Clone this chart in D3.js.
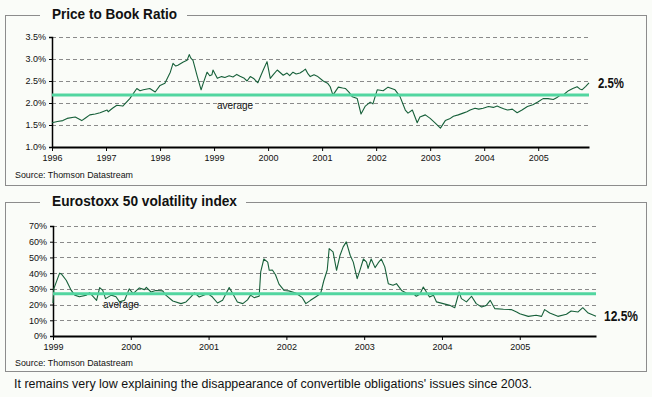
<!DOCTYPE html>
<html><head><meta charset="utf-8">
<script src="https://cdn.jsdelivr.net/npm/d3@7"></script>
<style>
body{margin:0;background:#fafcf8}
text{font-family:Arial,"Liberation Sans",sans-serif;fill:#111}
</style></head><body>
<svg id="c" width="652" height="397"></svg>
<script>
// ---------- data ----------
const pbDates = [1996.00,1996.10,1996.20,1996.28,1996.43,1996.55,1996.62,1996.70,1996.80,1996.89,1997.02,1997.04,1997.12,1997.20,1997.31,1997.44,1997.57,1997.63,1997.69,1997.81,1997.91,1998.00,1998.09,1998.19,1998.24,1998.29,1998.33,1998.43,1998.50,1998.54,1998.57,1998.61,1998.69,1998.76,1998.80,1998.87,1998.92,1998.96,1998.98,1999.06,1999.14,1999.20,1999.28,1999.35,1999.42,1999.48,1999.55,1999.61,1999.67,1999.74,1999.81,1999.91,1999.98,2000.04,2000.10,2000.17,2000.28,2000.35,2000.40,2000.46,2000.52,2000.59,2000.64,2000.69,2000.74,2000.78,2000.85,2000.91,2001.02,2001.10,2001.15,2001.20,2001.30,2001.38,2001.43,2001.50,2001.56,2001.65,2001.72,2001.80,2001.89,2001.94,2002.02,2002.13,2002.22,2002.35,2002.44,2002.54,2002.59,2002.67,2002.76,2002.81,2002.91,2003.00,2003.09,2003.19,2003.28,2003.36,2003.43,2003.52,2003.61,2003.68,2003.74,2003.83,2003.90,2003.98,2004.08,2004.17,2004.24,2004.30,2004.36,2004.43,2004.52,2004.61,2004.70,2004.80,2004.90,2005.00,2005.09,2005.18,2005.28,2005.34,2005.41,2005.48,2005.56,2005.64,2005.72,2005.77,2005.81,2005.88,2005.94];
const pbValues = [1.55,1.58,1.60,1.65,1.68,1.60,1.66,1.73,1.75,1.78,1.84,1.80,1.88,1.95,1.93,2.10,2.33,2.28,2.30,2.33,2.25,2.40,2.45,2.70,2.90,2.84,2.86,2.93,2.97,3.10,3.02,2.97,2.60,2.30,2.45,2.70,2.62,2.64,2.75,2.56,2.60,2.58,2.62,2.59,2.65,2.61,2.57,2.50,2.60,2.55,2.46,2.75,2.94,2.56,2.65,2.75,2.63,2.68,2.62,2.70,2.66,2.68,2.72,2.77,2.66,2.60,2.64,2.61,2.50,2.45,2.37,2.18,2.36,2.34,2.33,2.24,2.14,2.10,1.75,1.93,2.02,1.98,2.30,2.28,2.36,2.30,2.15,1.84,1.77,1.84,1.55,1.68,1.73,1.65,1.55,1.43,1.60,1.64,1.70,1.73,1.77,1.80,1.84,1.88,1.86,1.88,1.92,1.90,1.93,1.90,1.87,1.84,1.86,1.78,1.84,1.92,1.96,2.03,2.10,2.10,2.08,2.12,2.18,2.20,2.28,2.33,2.37,2.32,2.30,2.38,2.46];
const pbAverage = 2.18;
const pbTicks = [1.0,1.5,2.0,2.5,3.0,3.5];
const pbYears = [1996,1997,1998,1999,2000,2001,2002,2003,2004,2005];

const volDates = [1999.00,1999.01,1999.085,1999.107,1999.17,1999.235,1999.28,1999.34,1999.43,1999.47,1999.56,1999.60,1999.64,1999.675,1999.75,1999.81,1999.855,1999.92,1999.98,2000.03,2000.11,2000.175,2000.20,2000.26,2000.32,2000.41,2000.45,2000.54,2000.645,2000.71,2000.77,2000.82,2000.88,2000.99,2001.05,2001.115,2001.18,2001.265,2001.31,2001.37,2001.44,2001.50,2001.54,2001.585,2001.65,2001.67,2001.71,2001.76,2001.78,2001.82,2001.86,2001.905,2001.97,2002.03,2002.12,2002.205,2002.25,2002.31,2002.375,2002.44,2002.48,2002.525,2002.55,2002.60,2002.645,2002.69,2002.73,2002.77,2002.82,2002.86,2002.91,2002.945,2002.99,2003.03,2003.05,2003.09,2003.14,2003.18,2003.22,2003.265,2003.31,2003.37,2003.415,2003.48,2003.54,2003.63,2003.67,2003.715,2003.76,2003.80,2003.84,2003.89,2003.93,2004.015,2004.10,2004.165,2004.22,2004.25,2004.315,2004.38,2004.44,2004.51,2004.57,2004.62,2004.68,2004.79,2004.89,2004.96,2005.00,2005.11,2005.21,2005.28,2005.32,2005.385,2005.49,2005.60,2005.66,2005.75,2005.81,2005.88,2005.98];
const volValues = [21,30,40,39.5,35.5,29,26,25,26,27.6,22.7,30.8,29,23.8,26,25,21.7,22.7,30,27,30.6,29.5,31,28,29,28.7,26,22.3,20.6,21.7,24.8,27.4,24.8,27,24.8,21,22.7,30.8,27,21.7,20.6,23,26,24.4,25.3,40.8,49,47,41.8,42,39,33,29,28.7,27.4,24.4,20.6,22.7,24.8,27,35,42,55.6,53.5,41.8,51.4,56.7,59.9,51.4,47,36.5,41.8,49,47,43,49,43.5,46.5,49,44,33.3,32.3,33.3,29,27.4,27,25.3,26.5,31.2,28,24.8,26,21.7,20.6,19.5,18,28,23.8,21.7,25.3,20.6,18.5,19.5,22.7,17.4,17,16.8,15.3,14.2,12.5,13.2,12.5,16.8,14.6,12.5,13.8,15.9,15.3,18,14.6,12.5];
const volAverage = 26.9;
const volTicks = [0,10,20,30,40,50,60,70];
const volYears = [1999,2000,2001,2002,2003,2004,2005];

const svg = d3.select("#c");
const LINE = "#17603a", AVG = "#52d6a0", GRID = "#8a8a8a", FRAME = "#8c8c8c";

function panel(o){
  const g = svg.append("g");
  const f = o.frame;
  g.append("path")
    .attr("d", `M${f.gapR},${f.y0}H${f.x1}V${f.y1}H${f.x0}V${f.y0}H${f.gapL}`)
    .attr("fill","none").attr("stroke",FRAME).attr("stroke-width",1).attr("shape-rendering","crispEdges");
  g.append("text").attr("x",52).attr("y",o.titleY).attr("font-size",15).attr("font-weight","bold")
    .attr("textLength",o.titleW).attr("lengthAdjust","spacingAndGlyphs").text(o.title);

  const x = d3.scaleLinear().domain(o.xDomain).range(o.xRange);
  const y = d3.scaleLinear().domain(o.yDomain).range(o.yRange);

  g.append("g").selectAll("line").data(o.ticks.slice(1)).join("line")
    .attr("x1",o.xRange[0]).attr("x2",o.xRange[1])
    .attr("y1",d=>Math.round(y(d))+0.5).attr("y2",d=>Math.round(y(d))+0.5)
    .attr("stroke",GRID).attr("stroke-dasharray","4,3").attr("stroke-width",1);

  const ya = g.append("g").attr("transform",`translate(${o.xRange[0]},0)`)
    .call(d3.axisLeft(y).tickValues(o.ticks).tickFormat(o.fmt).tickSize(3).tickPadding(3));
  ya.select(".domain").attr("stroke","#000").attr("stroke-width",1.5);
  ya.selectAll(".tick line").attr("stroke","#000");
  ya.selectAll("text").attr("font-size",9).attr("font-family","Arial,'Liberation Sans',sans-serif").attr("fill","#111");

  const xa = g.append("g").attr("transform",`translate(0,${o.yRange[0]})`)
    .call(d3.axisBottom(x).tickValues(o.years).tickFormat(d3.format("d")).tickSize(4).tickSizeOuter(0).tickPadding(4));
  xa.select(".domain").attr("stroke","#000").attr("stroke-width",2);
  xa.selectAll(".tick line").attr("stroke","#000");
  xa.selectAll("text").attr("font-size",9).attr("font-family","Arial,'Liberation Sans',sans-serif").attr("fill","#111");

  const pts = o.dates.map((d,i)=>[d,o.values[i]]);
  g.append("path").datum(pts)
    .attr("d", d3.line().x(d=>x(d[0])).y(d=>y(d[1])))
    .attr("fill","none").attr("stroke",LINE).attr("stroke-width",1.1).attr("stroke-linejoin","round");

  g.append("line").attr("x1",o.xRange[0]).attr("x2",o.xRange[1])
    .attr("y1",y(o.avg)).attr("y2",y(o.avg)).attr("stroke",AVG).attr("stroke-width",3);
  g.append("text").attr("x",o.avgLabelX).attr("y",y(o.avg)+14).attr("font-size",10).text("average");

  const last = o.values[o.values.length-1];
  g.append("text").attr("x",o.xRange[1]+o.endDx).attr("y",y(last)+5)
    .attr("font-size",14).attr("font-weight","bold")
    .attr("textLength",o.endW).attr("lengthAdjust","spacingAndGlyphs")
    .text(o.endLabel);

  g.append("text").attr("x",15).attr("y",o.sourceY).attr("font-size",9)
    .attr("textLength",118).attr("lengthAdjust","spacingAndGlyphs").text("Source: Thomson Datastream");
}

panel({
  frame:{x0:5.5,x1:646.5,y0:15.5,y1:185.5,gapL:40,gapR:187},
  title:"Price to Book Ratio", titleY:19, titleW:125,
  xDomain:[1996,2005.94], xRange:[52,589],
  yDomain:[1.0,3.5], yRange:[147,37],
  ticks:pbTicks, fmt:d=>d.toFixed(1)+"%", years:pbYears,
  dates:pbDates, values:pbValues, avg:pbAverage, avgLabelX:217,
  endLabel:"2.5%", endDx:9, endW:26, sourceY:178
});
panel({
  frame:{x0:5.5,x1:646.5,y0:202.5,y1:371.5,gapL:40,gapR:246},
  title:"Eurostoxx 50 volatility index", titleY:206, titleW:185,
  xDomain:[1999,2005.98], xRange:[53,596],
  yDomain:[0,70], yRange:[336,226],
  ticks:volTicks, fmt:d=>d+"%", years:volYears,
  dates:volDates, values:volValues, avg:volAverage, avgLabelX:103,
  endLabel:"12.5%", endDx:8, endW:34, sourceY:366
});

svg.append("text").attr("x",14).attr("y",388).attr("font-size",12)
  .attr("textLength",518).attr("lengthAdjust","spacingAndGlyphs")
  .text("It remains very low explaining the disappearance of convertible obligations' issues since 2003.");
</script></body></html>
